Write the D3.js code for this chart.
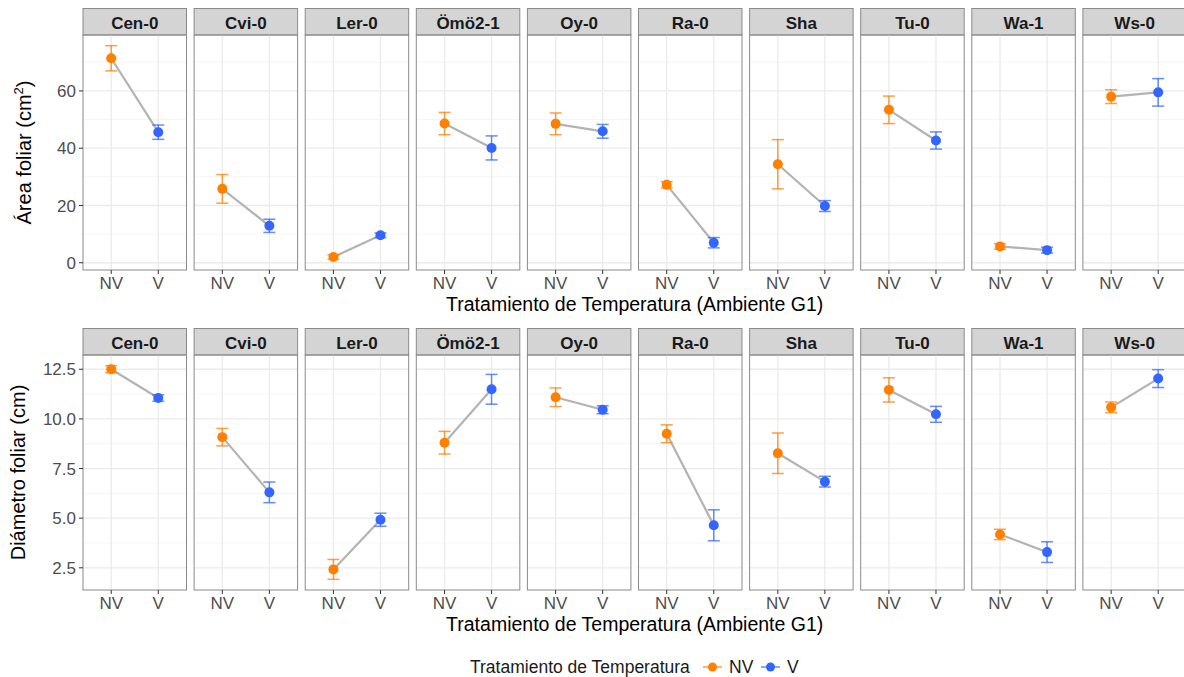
<!DOCTYPE html>
<html>
<head>
<meta charset="utf-8">
<script src="https://cdn.jsdelivr.net/npm/d3@7"></script>
<style>
  html, body { margin: 0; padding: 0; background: #fff; }
  svg { display: block; font-family: "Liberation Sans", Arial, sans-serif; }
</style>
</head>
<body>
<svg id="chart" width="1184" height="677"></svg>
<script>
// Accessions (facets) and temperature treatments
const accessions = ["Cen-0", "Cvi-0", "Ler-0", "Ömö2-1", "Oy-0", "Ra-0", "Sha", "Tu-0", "Wa-1", "Ws-0"];
const treatments = ["NV", "V"];

// Leaf area (cm²): mean and error half-width, per accession, NV then V
const areaNV    = [71.4, 25.8, 2.0, 48.6, 48.5, 27.2, 34.4, 53.4, 5.7, 58.0];
const areaNVErr = [4.4, 5.0, 0.8, 3.9, 3.8, 1.1, 8.6, 4.8, 1.0, 2.4];
const areaV     = [45.6, 12.9, 9.6, 40.1, 45.9, 7.0, 19.8, 42.7, 4.4, 59.5];
const areaVErr  = [2.5, 2.3, 0.8, 4.2, 2.4, 1.8, 1.9, 3.0, 1.0, 4.8];

// Leaf diameter (cm): mean and error half-width
const diamNV    = [12.5, 9.08, 2.42, 8.80, 11.09, 9.25, 8.27, 11.46, 4.18, 10.58];
const diamNVErr = [0.18, 0.44, 0.50, 0.57, 0.47, 0.45, 1.02, 0.61, 0.26, 0.27];
const diamV     = [11.05, 6.30, 4.92, 11.49, 10.46, 4.64, 6.84, 10.23, 3.29, 12.03];
const diamVErr  = [0.16, 0.52, 0.33, 0.75, 0.20, 0.78, 0.27, 0.40, 0.52, 0.45];

// Axis ticks
const areaTicks = [0, 20, 40, 60];
const areaMinor = [10, 30, 50, 70];
const diamTicks = [2.5, 5.0, 7.5, 10.0, 12.5];
const diamMinor = [3.75, 6.25, 8.75, 11.25];

const colors = { NV: "#FF7F00", V: "#3366FF" };

const svg = d3.select("#chart");

function buildRows(nv, nvErr, v, vErr) {
  return accessions.map((a, i) => ({
    acc: a,
    pts: [
      { t: "NV", m: nv[i], e: nvErr[i] },
      { t: "V",  m: v[i],  e: vErr[i] }
    ]
  }));
}

// Panel grid geometry
const panelLeft = 83, panelStep = 111.1, panelW = 103.5;
const stripH = 26.5;
const panelsCenter = (panelLeft + panelLeft + 9 * panelStep + panelW) / 2;

function drawRow(opts) {
  const rows = buildRows(opts.nv, opts.nvErr, opts.v, opts.vErr);
  const all = rows.flatMap(r => r.pts);
  const lo = d3.min(all, d => d.m - d.e), hi = d3.max(all, d => d.m + d.e);
  const pad = (hi - lo) * 0.05;
  const y = d3.scaleLinear().domain([lo - pad, hi + pad]).range([opts.bottom, opts.top]);
  // discrete x with a 0.6 expansion on each side
  const xu = d3.scaleLinear().domain([0.4, 2.6]).range([0, panelW]);
  const xPos = t => xu(treatments.indexOf(t) + 1);

  const g = svg.append("g");

  rows.forEach((row, i) => {
    const px = panelLeft + i * panelStep;
    const p = g.append("g").attr("transform", `translate(${px},0)`);

    // strip
    p.append("rect")
      .attr("x", 0).attr("y", opts.top - stripH)
      .attr("width", panelW).attr("height", stripH)
      .attr("fill", "#D4D4D4").attr("stroke", "#8A8A8A").attr("stroke-width", 1);
    p.append("text")
      .attr("x", panelW / 2).attr("y", opts.top - stripH / 2 + 1)
      .attr("dy", "0.36em").attr("text-anchor", "middle")
      .attr("font-size", 17).attr("font-weight", "bold").attr("fill", "#1A1A1A")
      .text(row.acc);

    // grid
    p.selectAll(".minor").data(opts.minor).join("line")
      .attr("x1", 0).attr("x2", panelW)
      .attr("y1", d => y(d)).attr("y2", d => y(d))
      .attr("stroke", "#F3F3F3").attr("stroke-width", 0.8);
    p.selectAll(".major").data(opts.ticks).join("line")
      .attr("x1", 0).attr("x2", panelW)
      .attr("y1", d => y(d)).attr("y2", d => y(d))
      .attr("stroke", "#EBEBEB").attr("stroke-width", 1.3);
    p.selectAll(".vgrid").data(treatments).join("line")
      .attr("x1", d => xPos(d)).attr("x2", d => xPos(d))
      .attr("y1", opts.top).attr("y2", opts.bottom)
      .attr("stroke", "#EBEBEB").attr("stroke-width", 1.3);

    // connecting line
    p.append("path")
      .datum(row.pts)
      .attr("d", d3.line().x(d => xPos(d.t)).y(d => y(d.m)))
      .attr("fill", "none").attr("stroke", "#B3B3B3").attr("stroke-width", 2.2);

    // error bars
    const eb = p.selectAll(".eb").data(row.pts).join("g")
      .attr("stroke", d => colors[d.t]).attr("stroke-opacity", 0.75).attr("stroke-width", 1.5);
    eb.append("line")
      .attr("x1", d => xPos(d.t)).attr("x2", d => xPos(d.t))
      .attr("y1", d => y(d.m - d.e)).attr("y2", d => y(d.m + d.e));
    [1, -1].forEach(s => {
      eb.append("line")
        .attr("x1", d => xPos(d.t) - 6).attr("x2", d => xPos(d.t) + 6)
        .attr("y1", d => y(d.m + s * d.e)).attr("y2", d => y(d.m + s * d.e));
    });

    // points
    p.selectAll(".pt").data(row.pts).join("circle")
      .attr("cx", d => xPos(d.t)).attr("cy", d => y(d.m)).attr("r", 5)
      .attr("fill", d => colors[d.t]);

    // panel border
    p.append("rect")
      .attr("x", 0).attr("y", opts.top)
      .attr("width", panelW).attr("height", opts.bottom - opts.top)
      .attr("fill", "none").attr("stroke", "#8A8A8A").attr("stroke-width", 1);

    // x ticks & labels
    const xt = p.selectAll(".xt").data(treatments).join("g")
      .attr("transform", d => `translate(${xPos(d)},${opts.bottom})`);
    xt.append("line").attr("y1", 0).attr("y2", 4).attr("stroke", "#333").attr("stroke-width", 1);
    xt.append("text").attr("y", 18.5).attr("text-anchor", "middle")
      .attr("font-size", 17).attr("fill", "#4D4D4D").text(d => d);
  });

  // y axis on first panel
  const ya = g.append("g").attr("transform", `translate(${panelLeft},0)`);
  const yt = ya.selectAll(".yt").data(opts.ticks).join("g")
    .attr("transform", d => `translate(0,${y(d)})`);
  yt.append("line").attr("x1", -4).attr("x2", 0).attr("stroke", "#333").attr("stroke-width", 1);
  yt.append("text").attr("x", -7).attr("dy", "0.36em").attr("text-anchor", "end")
    .attr("font-size", 17).attr("fill", "#4D4D4D").text(opts.fmt);

  // axis titles
  svg.append("text")
    .attr("x", panelsCenter).attr("y", opts.xTitleY)
    .attr("text-anchor", "middle").attr("font-size", 19.5).attr("fill", "#000")
    .text("Tratamiento de Temperatura (Ambiente G1)");

  const yl = svg.append("text")
    .attr("transform", `translate(${opts.yTitleX},${(opts.top + opts.bottom) / 2}) rotate(-90)`)
    .attr("text-anchor", "middle").attr("font-size", 20).attr("fill", "#000");
  opts.yTitle(yl);
}

drawRow({
  nv: areaNV, nvErr: areaNVErr, v: areaV, vErr: areaVErr,
  top: 35, bottom: 270, ticks: areaTicks, minor: areaMinor,
  fmt: d3.format("d"), xTitleY: 311, yTitleX: 31,
  yTitle: t => {
    t.append("tspan").text("Área foliar (cm");
    t.append("tspan").attr("dy", -8).attr("font-size", 13).text("2");
    t.append("tspan").attr("dy", 8).text(")");
  }
});

drawRow({
  nv: diamNV, nvErr: diamNVErr, v: diamV, vErr: diamVErr,
  top: 355, bottom: 590, ticks: diamTicks, minor: diamMinor,
  fmt: d3.format(".1f"), xTitleY: 631, yTitleX: 25,
  yTitle: t => t.text("Diámetro foliar (cm)")
});

// legend
const leg = svg.append("g").attr("transform", "translate(470,667)");
leg.append("text").attr("x", 0).attr("dy", "0.36em")
  .attr("font-size", 17.5).attr("fill", "#1A1A1A").text("Tratamiento de Temperatura");
const keys = [{ t: "NV", x: 233 }, { t: "V", x: 291 }];
keys.forEach(k => {
  const kg = leg.append("g").attr("transform", `translate(${k.x},0)`);
  kg.append("line").attr("x1", 0).attr("x2", 19).attr("stroke", colors[k.t])
    .attr("stroke-width", 1.5).attr("stroke-opacity", 0.75);
  kg.append("circle").attr("cx", 9.5).attr("r", 4.5).attr("fill", colors[k.t]);
  kg.append("text").attr("x", 26).attr("dy", "0.36em")
    .attr("font-size", 17.5).attr("fill", "#1A1A1A").text(k.t);
});
</script>
</body>
</html>
